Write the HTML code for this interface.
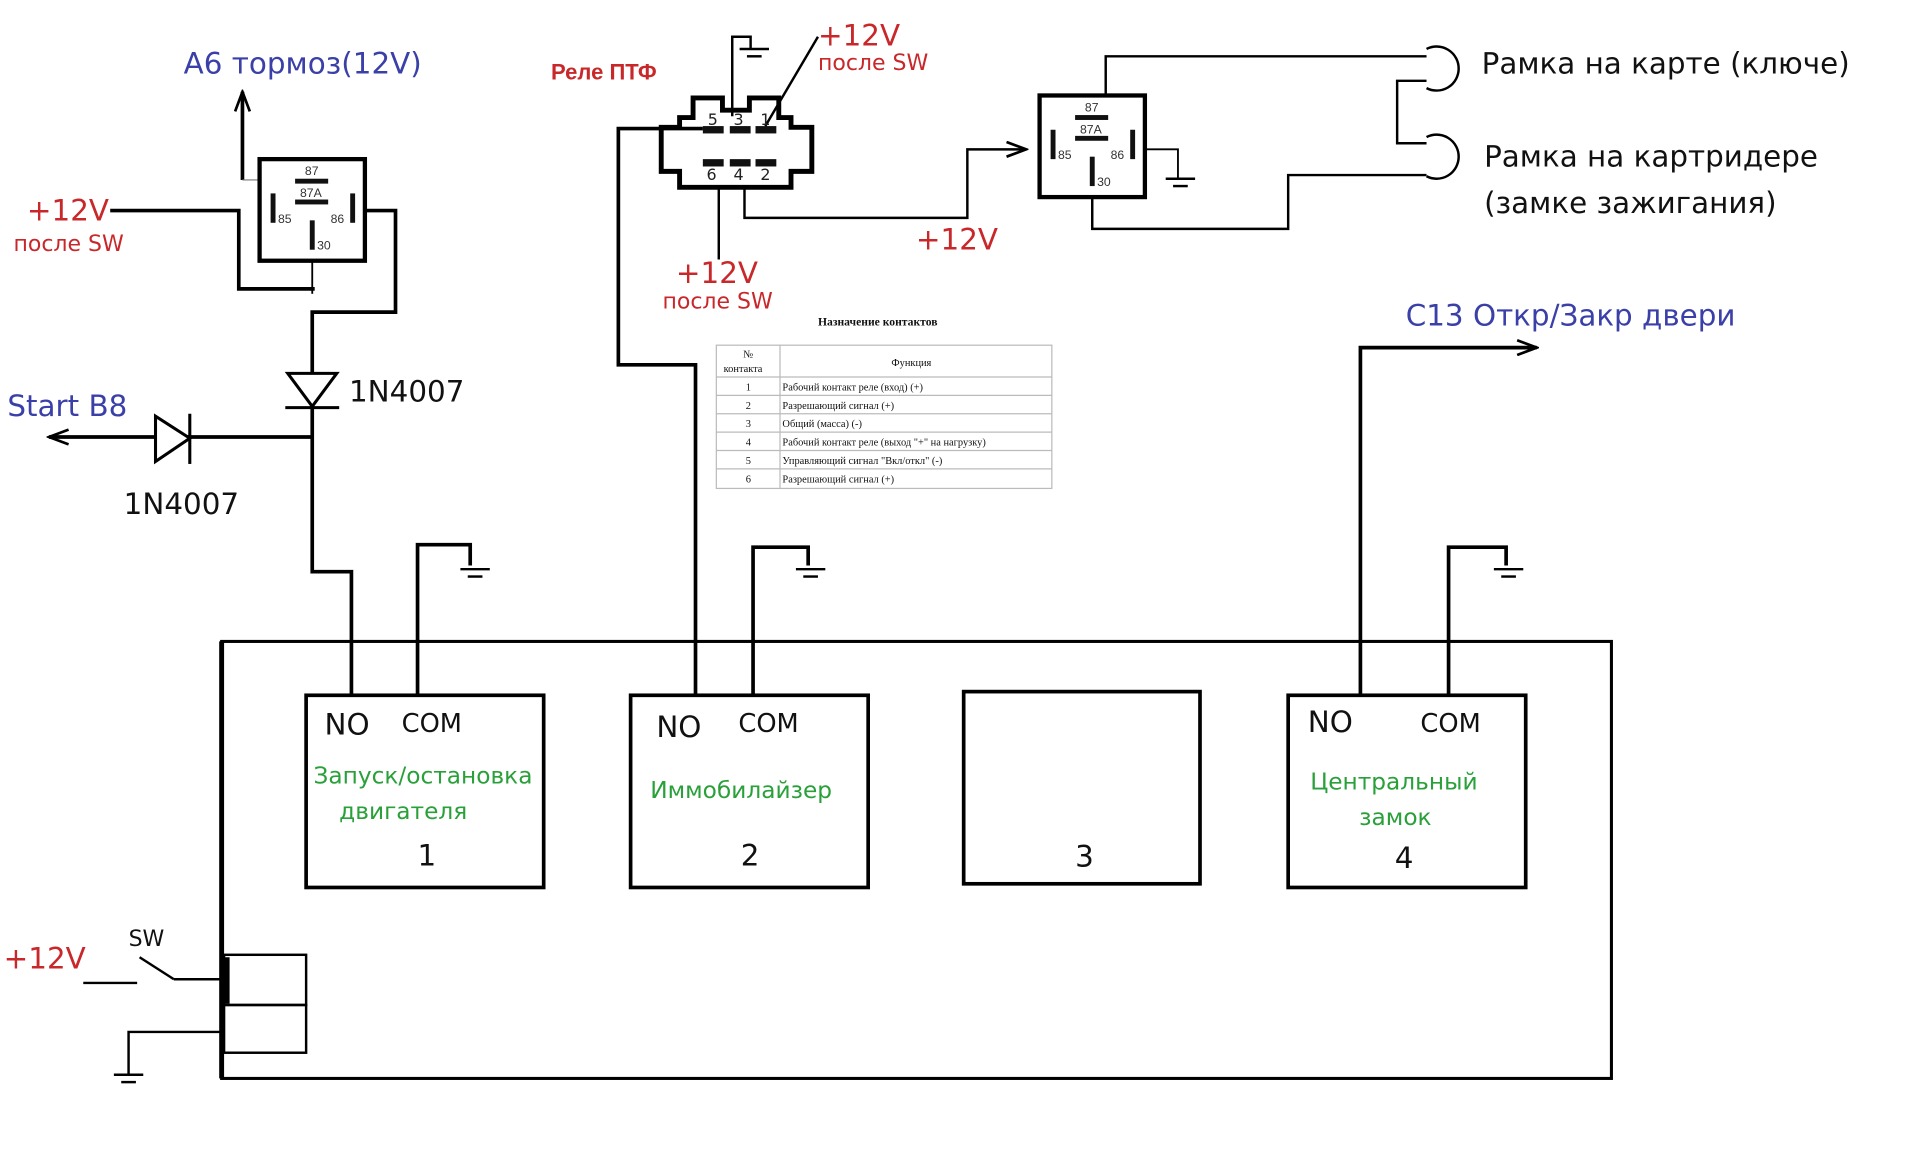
<!DOCTYPE html>
<html><head><meta charset="utf-8"><style>html,body{margin:0;padding:0;background:#fff}svg{display:block}
text{font-family:"DejaVu Sans","Liberation Sans",sans-serif}</style></head><body>
<svg width="1920" height="1158" viewBox="0 0 1568 946" preserveAspectRatio="none" xmlns="http://www.w3.org/2000/svg">
<defs>
<marker id="ar" markerWidth="20" markerHeight="14" refX="18" refY="7" orient="auto" markerUnits="userSpaceOnUse"><path d="M2,1 L18,7 L2,13" fill="none" stroke="#000" stroke-width="2.2"/></marker>
<g id="relay">
<rect x="0" y="0" width="86" height="83" fill="#fff" stroke="#000" stroke-width="3.5"/>
<rect x="29" y="16" width="27" height="4" fill="#111"/>
<rect x="29" y="33" width="27" height="4" fill="#111"/>
<rect x="9" y="28" width="4" height="24" fill="#111"/>
<rect x="74" y="28" width="4" height="24" fill="#111"/>
<rect x="41" y="50" width="4" height="24" fill="#111"/>
<text x="37" y="13" font-size="10" fill="#333" style="font-family:'Liberation Sans',sans-serif">87</text>
<text x="33" y="31" font-size="10" fill="#333" style="font-family:'Liberation Sans',sans-serif">87A</text>
<text x="15" y="52" font-size="10" fill="#333" style="font-family:'Liberation Sans',sans-serif">85</text>
<text x="58" y="52" font-size="10" fill="#333" style="font-family:'Liberation Sans',sans-serif">86</text>
<text x="47" y="74" font-size="10" fill="#333" style="font-family:'Liberation Sans',sans-serif">30</text>
</g>
<g id="gnd" stroke="#000" stroke-width="2"><line x1="-12" y1="0" x2="12" y2="0"/><line x1="-6" y1="6" x2="6" y2="6"/></g>
</defs>
<rect width="1568" height="946" fill="#fff"/>
<g fill="none" stroke="#000" stroke-width="3">
<polyline points="90,172 195,172 195,236 257,236"/>
<line x1="255" y1="213" x2="255" y2="240" stroke-width="1.5"/>
<polyline points="198,147 198,75" marker-end="url(#ar)"/>
<line x1="198" y1="147" x2="230" y2="147" stroke-width="1" stroke="#777"/>
<polyline points="298,172 323,172 323,255 255,255 255,467 287,467 287,568"/>
<polyline points="255,357 40,357" marker-end="url(#ar)"/>
<rect x="181" y="524" width="1135" height="357" stroke-width="2.5"/>
<line x1="181" y1="524" x2="181" y2="881" stroke-width="4"/>
<rect x="250" y="568" width="194" height="157"/>
<rect x="515" y="568" width="194" height="157"/>
<rect x="787" y="565" width="193" height="157"/>
<rect x="1052" y="568" width="194" height="157"/>
<polyline points="341,568 341,445 384,445 384,462"/>
<polyline points="574,105 505,105 505,298 568,298 568,568"/>
<polyline points="615,568 615,447 660,447 660,462"/>
<polyline points="1111,568 1111,284 1255,284" marker-end="url(#ar)"/>
<polyline points="1183,568 1183,447 1230,447 1230,462"/>
<rect x="183" y="780" width="67" height="41" stroke-width="2"/>
<rect x="183" y="821" width="67" height="39" stroke-width="2"/>
<line x1="185" y1="782" x2="185" y2="820" stroke-width="5"/>
<line x1="68" y1="803" x2="112" y2="803" stroke-width="2"/>
<line x1="114" y1="782" x2="142" y2="800" stroke-width="2"/>
<line x1="142" y1="800" x2="183" y2="800" stroke-width="2"/>
<polyline points="181,843 105,843 105,878" stroke-width="2"/>
<polygon points="555,96 566,96 566,80 590,80 590,90 612,90 612,80 636,80 636,96 646,96 646,104 663,104 663,140 646,140 646,153 555,153 555,140 540,140 540,104 555,104" stroke-width="4"/>
<polyline points="598,95 598,30 613,30 613,40" stroke-width="2"/>
<line x1="625" y1="103" x2="668" y2="30" stroke-width="2"/>
<line x1="587" y1="153" x2="587" y2="212" stroke-width="2"/>
<polyline points="608,153 608,178 790,178 790,122 838,122" stroke-width="2" marker-end="url(#ar)"/>
<polyline points="903,88 903,46 1165,46" stroke-width="2"/>
<path d="M1165,40 A18,18 0 1 1 1165,72" stroke-width="2"/>
<polyline points="1165,66 1141,66 1141,117 1165,117" stroke-width="2"/>
<path d="M1165,112 A18,18 0 1 1 1165,144" stroke-width="2"/>
<polyline points="935,122 962,122 962,145" stroke-width="1.5"/>
<polyline points="892,162 892,187 1052,187 1052,143 1165,143" stroke-width="2"/>
</g>
<use href="#gnd" x="388" y="465"/><use href="#gnd" x="662" y="465"/><use href="#gnd" x="1232" y="465"/>
<use href="#gnd" x="105" y="878"/><use href="#gnd" x="616" y="40"/><use href="#gnd" x="964" y="146"/>
<use href="#relay" x="212" y="130"/>
<use href="#relay" x="849" y="78"/>
<polygon points="235,305 275,305 255,332" fill="#fff" stroke="#000" stroke-width="2.5"/>
<line x1="233" y1="333" x2="277" y2="333" stroke="#000" stroke-width="2.5"/>
<polygon points="127,340 127,377 155,358" fill="#fff" stroke="#000" stroke-width="2.5"/>
<line x1="155" y1="338" x2="155" y2="379" stroke="#000" stroke-width="2.5"/>
<g fill="#111"><rect x="574" y="103" width="17" height="6"/><rect x="596" y="103" width="17" height="6"/><rect x="617" y="103" width="17" height="6"/>
<rect x="574" y="130" width="17" height="6"/><rect x="596" y="130" width="17" height="6"/><rect x="617" y="130" width="17" height="6"/></g>
<g font-size="13" fill="#222"><text x="578" y="102">5</text><text x="599" y="102">3</text><text x="621" y="102">1</text>
<text x="577" y="147">6</text><text x="599" y="147">4</text><text x="621" y="147">2</text></g>
<g fill="#3a40a8" font-size="24"><text x="150" y="60">А6 тормоз(12V)</text><text x="6" y="340">Start B8</text><text x="1148" y="266">С13 Откр/Закр двери</text></g>
<g fill="#c8282a"><text x="22" y="180" font-size="24">+12V</text><text x="11" y="205" font-size="18">после SW</text>
<text x="450" y="65" font-size="18" font-weight="bold" style="font-family:'Liberation Sans',sans-serif">Реле ПТФ</text>
<text x="668" y="37" font-size="24">+12V</text><text x="668" y="57" font-size="18">после SW</text>
<text x="552" y="231" font-size="24">+12V</text><text x="541" y="252" font-size="18">после SW</text>
<text x="748" y="204" font-size="24">+12V</text><text x="3" y="791" font-size="24">+12V</text></g>
<g fill="#111" font-size="24"><text x="285" y="328">1N4007</text><text x="101" y="420">1N4007</text>
<text x="1210" y="60">Рамка на карте (ключе)</text><text x="1212" y="136">Рамка на картридере</text><text x="1212" y="174">(замке зажигания)</text>
<text x="265" y="600">NO</text><text x="328" y="598" font-size="21">COM</text>
<text x="536" y="602">NO</text><text x="603" y="598" font-size="21">COM</text>
<text x="1068" y="598">NO</text><text x="1160" y="598" font-size="21">COM</text>
<text x="341" y="707">1</text><text x="605" y="707">2</text><text x="878" y="708">3</text><text x="1139" y="709">4</text>
<text x="105" y="773" font-size="18">SW</text></g>
<g fill="#2aa03a" font-size="19"><text x="256" y="640">Запуск/остановка</text><text x="277" y="669">двигателя</text>
<text x="531" y="652">Иммобилайзер</text><text x="1070" y="645">Центральный</text><text x="1110" y="674">замок</text></g>
<g fill="#111">
<text x="668" y="266" font-size="9.5" font-weight="bold" style="font-family:'Liberation Serif',serif">Назначение контактов</text>
<g fill="none" stroke="#bbb" stroke-width="1"><rect x="585" y="282" width="274" height="117"/>
<line x1="637" y1="282" x2="637" y2="399"/>
<line x1="585" y1="308" x2="859" y2="308"/><line x1="585" y1="323" x2="859" y2="323"/><line x1="585" y1="338" x2="859" y2="338"/>
<line x1="585" y1="353" x2="859" y2="353"/><line x1="585" y1="368" x2="859" y2="368"/><line x1="585" y1="383" x2="859" y2="383"/></g>
<g font-size="8.5" style="font-family:'Liberation Serif',serif"><text x="607" y="292" style="font-family:'Liberation Serif',serif">№</text><text x="591" y="304" style="font-family:'Liberation Serif',serif">контакта</text><text x="728" y="299" style="font-family:'Liberation Serif',serif">Функция</text>
<text x="609" y="319" style="font-family:'Liberation Serif',serif">1</text><text x="639" y="319" style="font-family:'Liberation Serif',serif">Рабочий контакт реле (вход) (+)</text>
<text x="609" y="334" style="font-family:'Liberation Serif',serif">2</text><text x="639" y="334" style="font-family:'Liberation Serif',serif">Разрешающий сигнал (+)</text>
<text x="609" y="349" style="font-family:'Liberation Serif',serif">3</text><text x="639" y="349" style="font-family:'Liberation Serif',serif">Общий (масса) (-)</text>
<text x="609" y="364" style="font-family:'Liberation Serif',serif">4</text><text x="639" y="364" style="font-family:'Liberation Serif',serif">Рабочий контакт реле (выход "+" на нагрузку)</text>
<text x="609" y="379" style="font-family:'Liberation Serif',serif">5</text><text x="639" y="379" style="font-family:'Liberation Serif',serif">Управляющий сигнал "Вкл/откл" (-)</text>
<text x="609" y="394" style="font-family:'Liberation Serif',serif">6</text><text x="639" y="394" style="font-family:'Liberation Serif',serif">Разрешающий сигнал (+)</text></g>
</g>
</svg>
</body></html>
